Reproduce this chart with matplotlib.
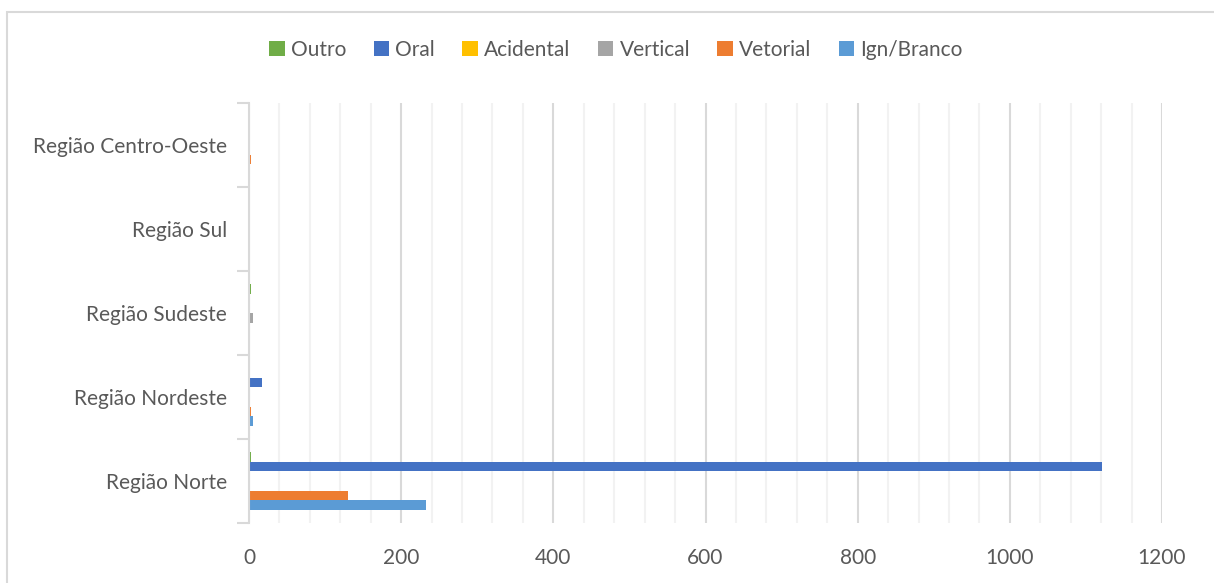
import matplotlib
matplotlib.use("Agg")
import matplotlib.pyplot as plt
import numpy as np
from matplotlib.patches import Rectangle

# Regions (bottom to top) and transmission modes
regions = ["Região Norte", "Região Nordeste", "Região Sudeste", "Região Sul", "Região Centro-Oeste"]
series_names = ["Outro", "Oral", "Acidental", "Vertical", "Vetorial", "Ign/Branco"]
outro = [3, 0, 2, 0, 0]
oral = [1121, 17, 0, 0, 0]
acidental = [0, 0, 0, 0, 0]
vertical = [1, 0, 5, 0, 0]
vetorial = [130, 3, 1, 0, 2]
ign_branco = [232, 5, 0, 0, 1]
series_values = [outro, oral, acidental, vertical, vetorial, ign_branco]
colors = ["#70AD47", "#4472C4", "#FFC000", "#A5A5A5", "#ED7D31", "#5B9BD5"]
x_ticks = [0, 200, 400, 600, 800, 1000, 1200]

plt.rcParams["font.family"] = ["Lato", "DejaVu Sans"]
text_color = "#595959"
fs = 15
W, H = 1214, 583
fig = plt.figure(figsize=(W / 100, H / 100), dpi=100)
ax = fig.add_axes([249 / W, 1 - 523 / H, (1162 - 249) / W, (523 - 103) / H])

n = len(series_names)
bar_h = 0.69 / n
y = np.arange(len(regions))
for i, (name, vals, c) in enumerate(zip(series_names, series_values, colors)):
    offset = (n / 2 - i - 0.5) * bar_h
    ax.barh(y + offset, vals, height=bar_h, color=c, label=name, zorder=3)

ax.set_xlim(0, 1200)
ax.set_ylim(-0.5, len(regions) - 0.5)
ax.set_xticks(x_ticks)
ax.set_xticks(np.arange(0, 1201, 40), minor=True)
ax.set_yticks(y)
ax.set_yticklabels(regions)
ax.set_yticks(np.arange(-0.5, len(regions), 1), minor=True)

ax.grid(axis="x", which="minor", color="#f2f2f2", lw=1.5, zorder=0)
ax.grid(axis="x", which="major", color="#d9d9d9", lw=1.5, zorder=1)

for s in ["top", "right", "bottom"]:
    ax.spines[s].set_visible(False)
ax.spines["left"].set_color("#d9d9d9")
ax.spines["left"].set_linewidth(1.5)
ax.spines["left"].set_zorder(4)

ax.tick_params(axis="x", which="both", length=0, pad=18, labelsize=fs, colors=text_color)
ax.tick_params(axis="y", which="major", length=0, pad=16, labelsize=fs, colors=text_color)
ax.tick_params(axis="y", which="minor", length=8.6, width=1.5, color="#d9d9d9")

leg = fig.legend(loc="center", bbox_to_anchor=(616 / W, 1 - 50 / H), ncol=6, frameon=False,
                 fontsize=fs, handlelength=0.75, handleheight=0.75, handletextpad=0.3,
                 columnspacing=1.3, labelcolor=text_color)

fig.patches.append(Rectangle((7 / W, -0.05), 1.2, 1.05 - 12 / H, transform=fig.transFigure,
                             fill=False, edgecolor="#d9d9d9", lw=1.5))

fig.savefig("out.png", dpi=100)
